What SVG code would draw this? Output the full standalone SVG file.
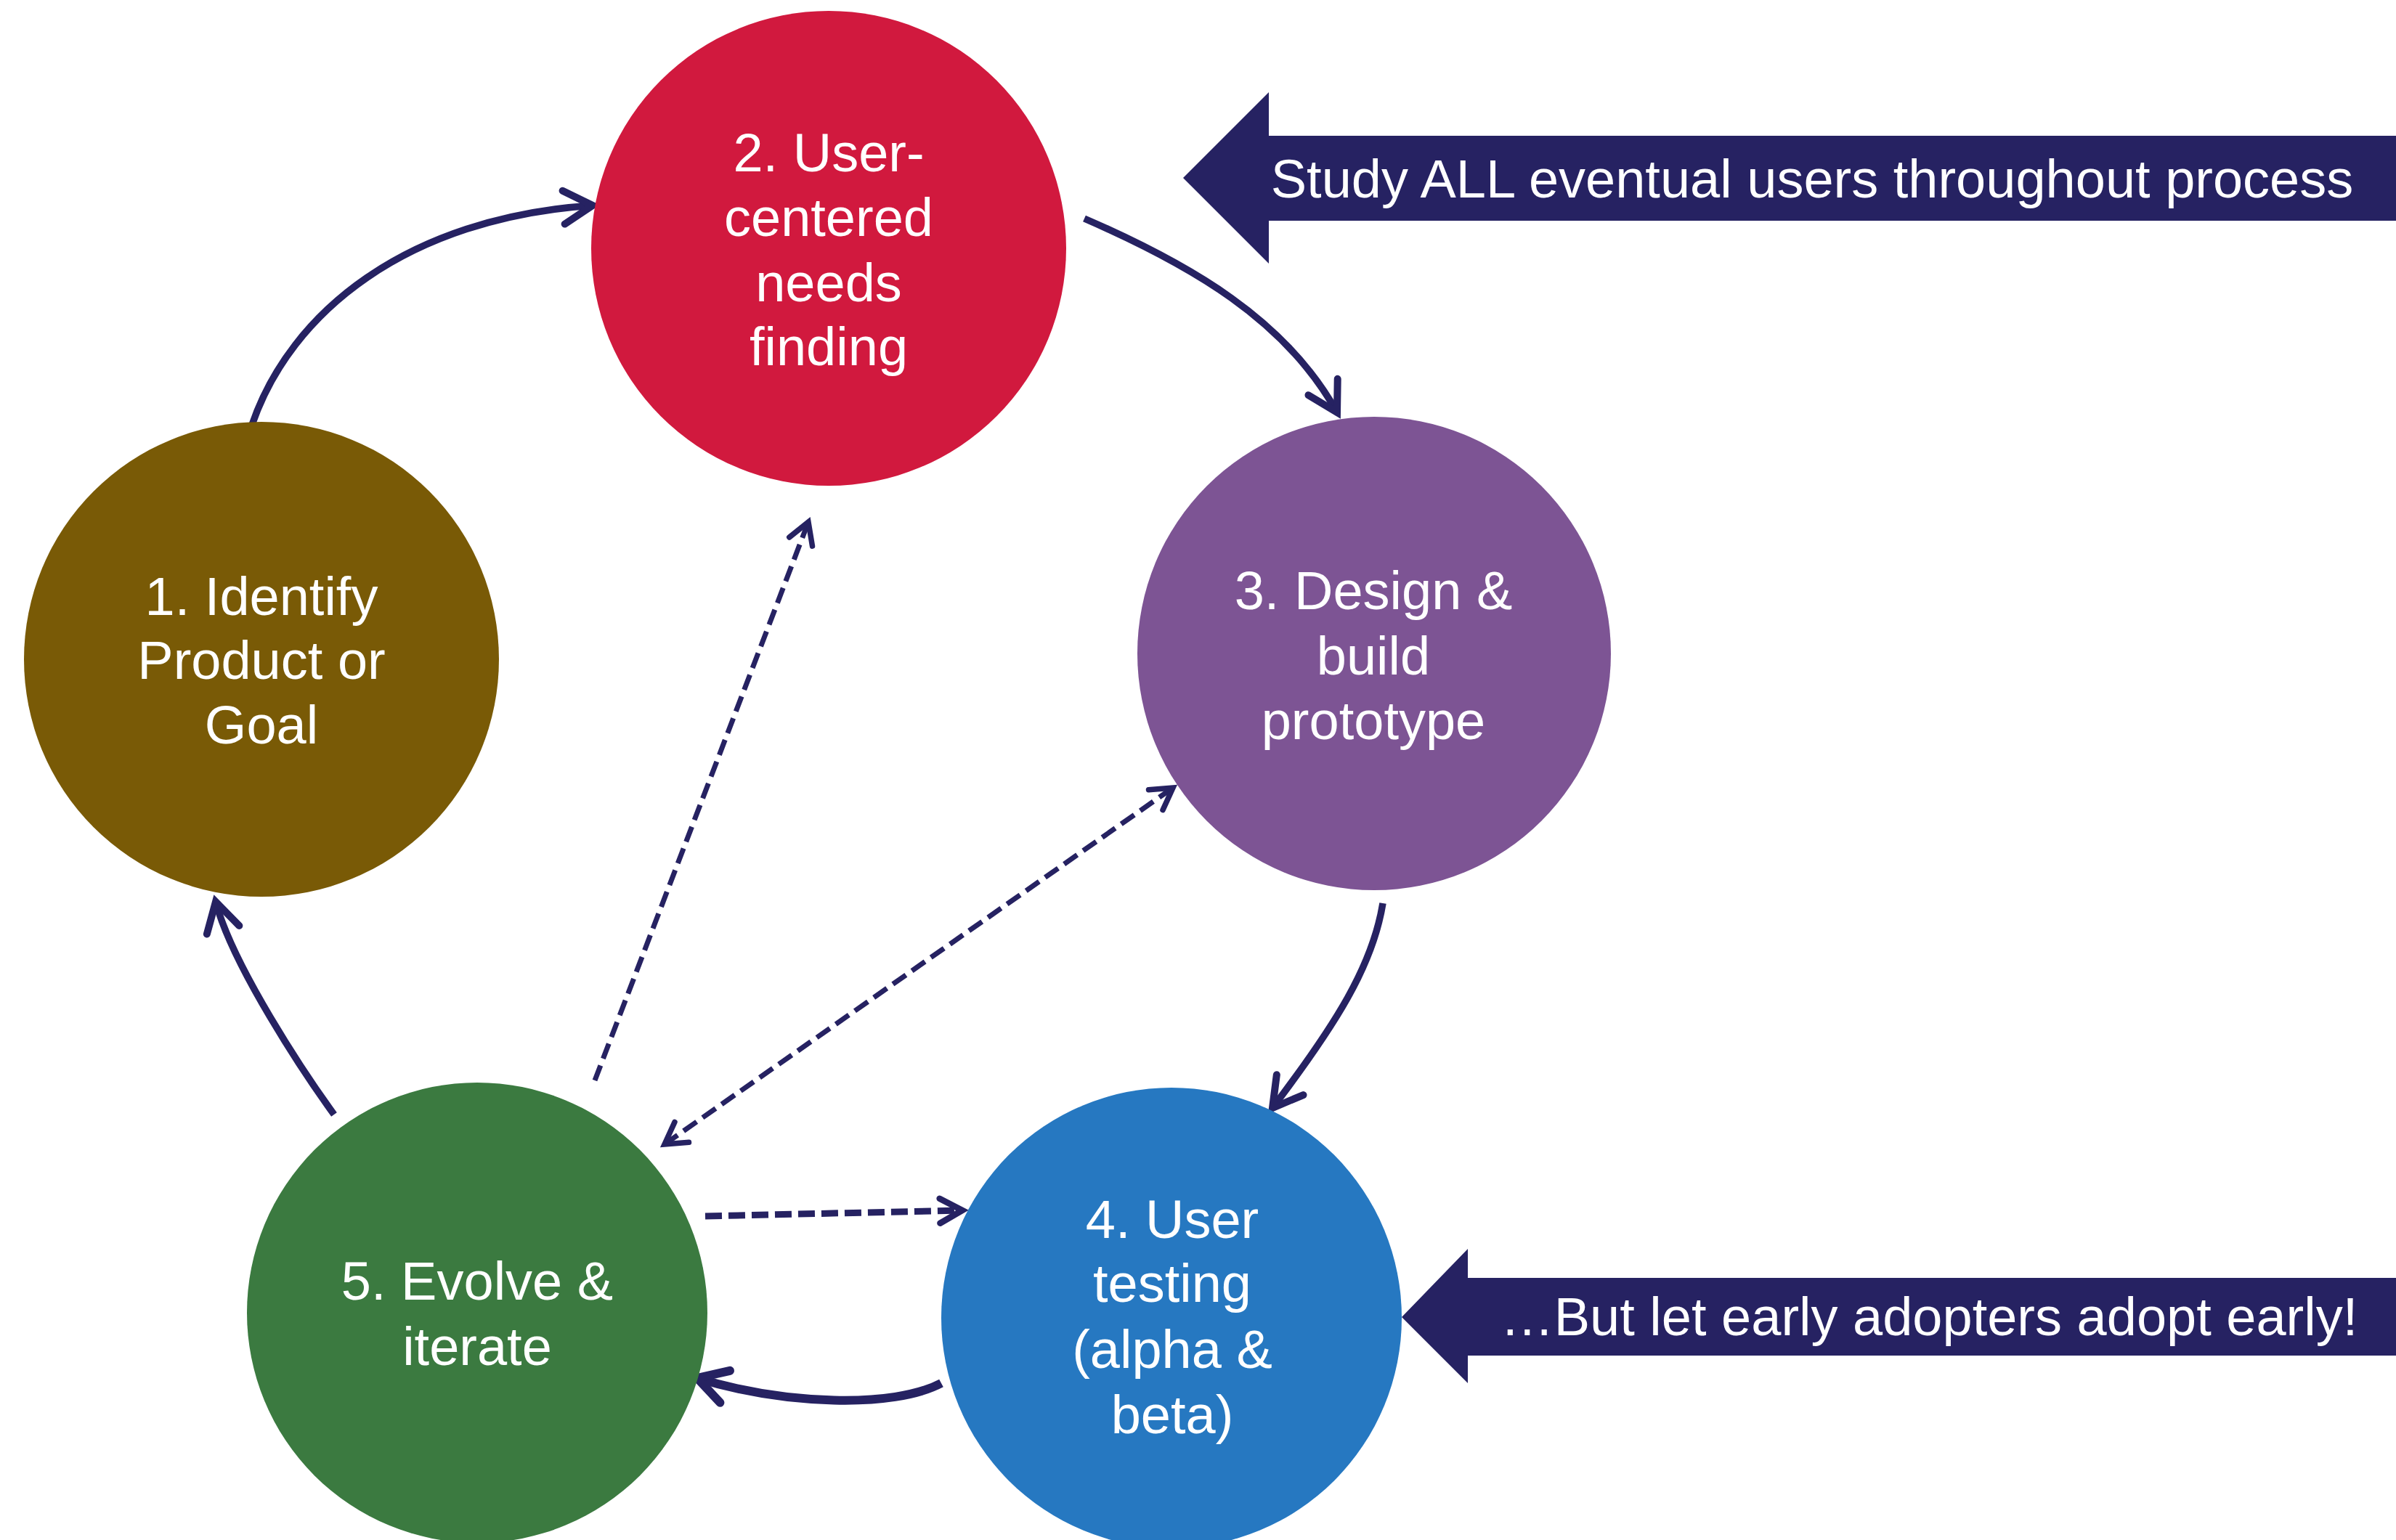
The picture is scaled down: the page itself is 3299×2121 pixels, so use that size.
<svg xmlns="http://www.w3.org/2000/svg" width="3299" height="2121" viewBox="0 0 3299 2121">
<style>
.lbl{font-family:"Liberation Sans",Arial,Helvetica,sans-serif;font-size:74px;fill:#ffffff;text-anchor:middle}
.ban{font-family:"Liberation Sans",Arial,Helvetica,sans-serif;font-size:74px;fill:#ffffff;text-anchor:middle}
.solid{fill:none;stroke:#262262;stroke-width:9.5;stroke-linecap:butt}
.thick{fill:none;stroke:#262262;stroke-width:12;stroke-linecap:butt}
.dash{fill:none;stroke:#262262;stroke-width:7;stroke-dasharray:22 10}
.dash2{fill:none;stroke:#262262;stroke-width:9;stroke-dasharray:23 9}
</style>
<defs>
<marker id="ah" markerUnits="userSpaceOnUse" viewBox="-50 -30 60 60" markerWidth="60" markerHeight="60" refX="0" refY="0" orient="auto" overflow="visible">
<path d="M-40,-23 L0,0 L-40,23" fill="none" stroke="#262262" stroke-width="10" stroke-linecap="round" stroke-linejoin="miter"/>
</marker>
<marker id="ahT" markerUnits="userSpaceOnUse" viewBox="-50 -30 60 60" markerWidth="60" markerHeight="60" refX="0" refY="0" orient="auto" overflow="visible">
<path d="M-40,-23 L0,0 L-40,23" fill="none" stroke="#262262" stroke-width="12" stroke-linecap="round" stroke-linejoin="miter"/>
</marker>
<marker id="ahd" markerUnits="userSpaceOnUse" viewBox="-40 -25 50 50" markerWidth="50" markerHeight="50" refX="0" refY="0" orient="auto" overflow="visible">
<path d="M-29,-17 L0,0 L-29,17" fill="none" stroke="#262262" stroke-width="7.5" stroke-linecap="round" stroke-linejoin="miter"/>
</marker>
<marker id="ahds" markerUnits="userSpaceOnUse" viewBox="-40 -25 50 50" markerWidth="50" markerHeight="50" refX="0" refY="0" orient="auto-start-reverse" overflow="visible">
<path d="M-29,-17 L0,0 L-29,17" fill="none" stroke="#262262" stroke-width="7.5" stroke-linecap="round" stroke-linejoin="miter"/>
</marker>
<marker id="ahd2" markerUnits="userSpaceOnUse" viewBox="-40 -25 50 50" markerWidth="50" markerHeight="50" refX="0" refY="0" orient="auto" overflow="visible">
<path d="M-31,-17 L0,0 L-31,17" fill="none" stroke="#262262" stroke-width="8.5" stroke-linecap="round" stroke-linejoin="miter"/>
</marker>
</defs>
<rect x="0" y="0" width="3299" height="2121" fill="#ffffff"/>

<g id="connectors">
<path class="solid" d="M347,585 C400,430 560,300 816,283" marker-end="url(#ah)"/>
<path class="solid" d="M1493,301 C1640,365 1770,440 1841,568" marker-end="url(#ah)"/>
<path class="solid" d="M1904,1244 C1890,1330 1840,1410 1752,1526" marker-end="url(#ah)"/>
<path class="thick" d="M1296,1905 C1230,1940 1080,1935 960,1898" marker-end="url(#ahT)"/>
<path class="solid" d="M460,1535 C420,1480 320,1330 297,1242" marker-end="url(#ah)"/>
<path class="dash" d="M819,1488 L1113,719" marker-end="url(#ahd)"/>
<path class="dash" d="M915,1576 L1615,1085" marker-start="url(#ahds)" marker-end="url(#ahds)"/>
<path class="dash2" d="M971,1675 L1325,1667" marker-end="url(#ahd2)"/>
</g>

<g id="node1">
<circle cx="360" cy="908" r="327" fill="#795A06"/>
<text class="lbl"><tspan x="360" y="847">1. Identify</tspan><tspan x="360" y="935">Product or</tspan><tspan x="360" y="1024">Goal</tspan></text>
</g>
<g id="node2">
<circle cx="1141" cy="342" r="327" fill="#D1193E"/>
<text class="lbl"><tspan x="1141" y="236">2. User-</tspan><tspan x="1141" y="325">centered</tspan><tspan x="1141" y="415">needs</tspan><tspan x="1141" y="503">finding</tspan></text>
</g>
<g id="node3">
<circle cx="1892" cy="900" r="326" fill="#7D5494"/>
<text class="lbl"><tspan x="1891" y="839">3. Design &amp;</tspan><tspan x="1891" y="929">build</tspan><tspan x="1891" y="1018">prototype</tspan></text>
</g>
<g id="node4">
<circle cx="1613" cy="1815" r="317" fill="#2678C1"/>
<text class="lbl"><tspan x="1614" y="1705">4. User</tspan><tspan x="1614" y="1793">testing</tspan><tspan x="1614" y="1884">(alpha &amp;</tspan><tspan x="1614" y="1974">beta)</tspan></text>
</g>
<g id="node5">
<circle cx="657" cy="1808" r="317" fill="#3B7A40"/>
<text class="lbl"><tspan x="657" y="1790">5. Evolve &amp;</tspan><tspan x="657" y="1880">iterate</tspan></text>
</g>

<g id="banner1">
<polygon points="1629,245 1747,127 1747,187 3299,187 3299,304 1747,304 1747,363" fill="#262262"/>
<text class="ban" x="2495" y="272">Study ALL eventual users throughout process</text>
</g>
<g id="banner2">
<polygon points="1930,1814 2021,1720 2021,1760 3299,1760 3299,1867 2021,1867 2021,1905" fill="#262262"/>
<text class="ban" x="2656" y="1839">…But let early adopters adopt early!</text>
</g>
</svg>
